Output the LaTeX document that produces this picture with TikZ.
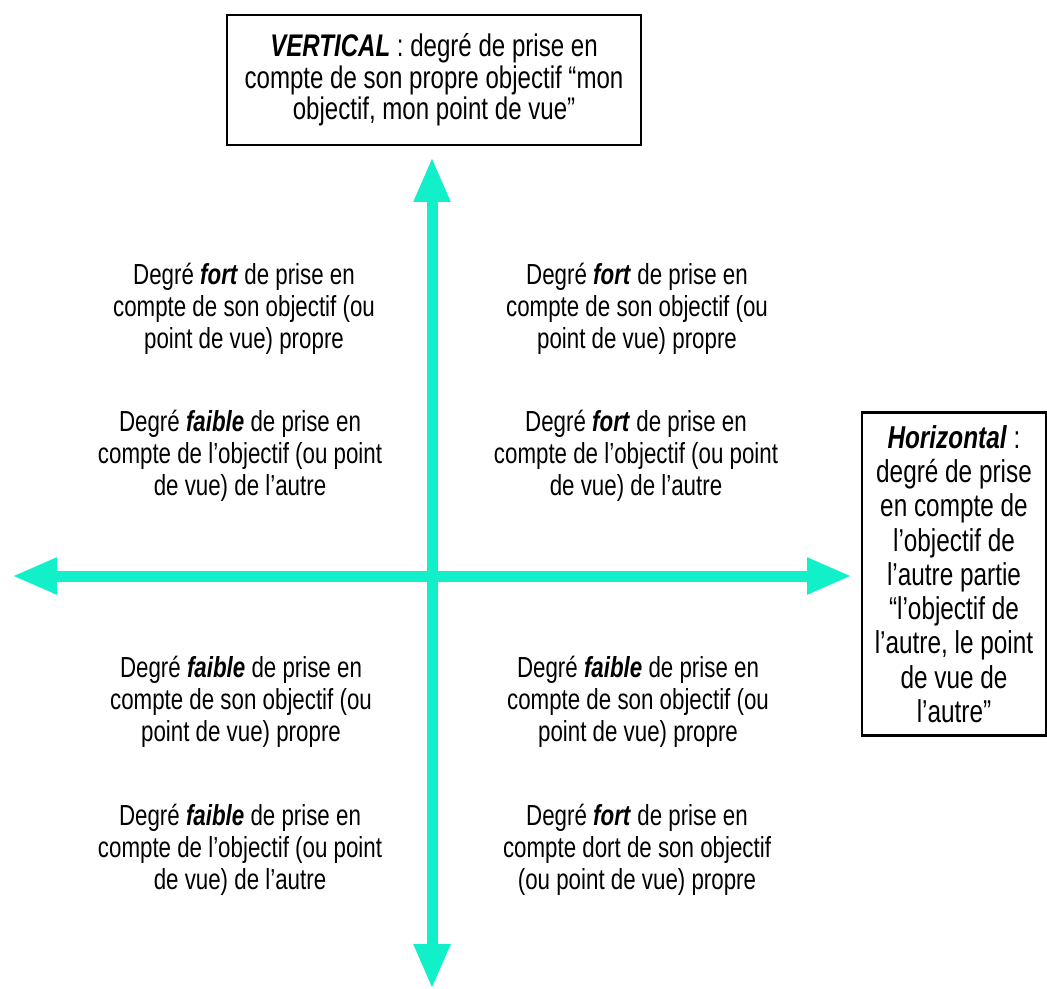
\documentclass[tikz,border=0pt]{standalone}
\usepackage{fontspec}
\setmainfont[FakeStretch=0.77]{Liberation Sans}
\usepackage{tikz}
\usetikzlibrary{arrows.meta}
\definecolor{axiscolor}{rgb}{0.07,0.94,0.79}

\begin{document}
\begin{tikzpicture}[x=0.02cm, y=-0.02cm]
\tikzset{
    axis/.style={draw=axiscolor, line width=0.22cm, -{Triangle[width=0.68cm, length=0.9cm]}},
    axisboth/.style={axis, {Triangle[width=0.68cm, length=0.9cm]}-{Triangle[width=0.68cm, length=0.9cm]}},
    titlebox/.style={draw=black, line width=1.2pt, align=center, inner sep=0pt},
    quadtext/.style={align=center}
}
\fontsize{16.5}{18.3}\selectfont
\useasboundingbox (0,0) rectangle (1047,989);
\coordinate (o) at (432,576);
\coordinate (top) at (432,157);
\coordinate (bot) at (432,989);
\coordinate (left) at (12,576);
\coordinate (right) at (852,576);
\draw[axisboth] (left) -- (right);
\draw[axisboth] (bot) -- (top);
\node[titlebox, minimum width=8.28cm, minimum height=2.6cm, font=\fontsize{17.8}{17.9}\selectfont] (vbox) at (434,80) {\textbf{\textit{VERTICAL}} : degré de prise en\\compte de son propre objectif “mon\\objectif, mon point de vue”};
\node[titlebox, minimum width=3.68cm, minimum height=6.46cm, font=\fontsize{18}{19.5}\selectfont] (hbox) at (954,574) {\textbf{\textit{Horizontal}} :\\degré de prise\\en compte de\\l’objectif de\\l’autre partie\\“l’objectif de\\l’autre, le point\\de vue de\\l’autre”};
\node[quadtext] (ul1) at (244,309) {Degré \textbf{\textit{fort}} de prise en\\compte de son objectif (ou\\point de vue) propre};
\node[quadtext] (ul2) at (240,456) {Degré \textbf{\textit{faible}} de prise en\\compte de l’objectif (ou point\\de vue) de l’autre};
\node[quadtext] (ur1) at (637,309) {Degré \textbf{\textit{fort}} de prise en\\compte de son objectif (ou\\point de vue) propre};
\node[quadtext] (ur2) at (636,456) {Degré \textbf{\textit{fort}} de prise en\\compte de l’objectif (ou point\\de vue) de l’autre};
\node[quadtext] (ll1) at (241,702) {Degré \textbf{\textit{faible}} de prise en\\compte de son objectif (ou\\point de vue) propre};
\node[quadtext] (ll2) at (240,850) {Degré \textbf{\textit{faible}} de prise en\\compte de l’objectif (ou point\\de vue) de l’autre};
\node[quadtext] (lr1) at (638,702) {Degré \textbf{\textit{faible}} de prise en\\compte de son objectif (ou\\point de vue) propre};
\node[quadtext] (lr2) at (637,850) {Degré \textbf{\textit{fort}} de prise en\\compte dort de son objectif\\(ou point de vue) propre};
\end{tikzpicture}
\end{document}
